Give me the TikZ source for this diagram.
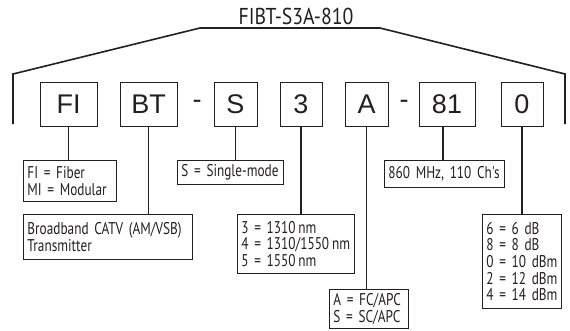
\documentclass[tikz,border=0pt]{standalone}
\usepackage{fontspec}
\setmainfont{Liberation Sans}
\newfontfamily\condfont[FakeStretch=0.78,WordSpace=0.7]{PT Sans}
\newfontfamily\titlefont[FakeStretch=0.86]{PT Sans}
\definecolor{ink}{HTML}{231F20}
\begin{document}
\begin{tikzpicture}[x=1pt,y=-1pt,
  codebox/.style={draw=ink, line width=0.9pt, text=ink, inner sep=0pt,
    font=\fontsize{27}{27}\selectfont, minimum height=44pt},
  dashmark/.style={text=ink, inner sep=0pt, font=\fontsize{27}{27}\selectfont},
  lab/.style={draw=ink, line width=0.9pt, text=ink, align=left, anchor=north west,
    inner xsep=4pt, inner ysep=0pt, font=\condfont\fontsize{17}{16.6}\selectfont},
  conn/.style={draw=ink, line width=1.3pt},
  bracketline/.style={draw=ink, line width=1.6pt, line join=miter}]
\useasboundingbox (0,0) rectangle (570,330);
% title and bracket
\node[text=ink, inner sep=0pt, font=\titlefont\fontsize{23}{23}\selectfont] (title) at (296,16) {FIBT-S3A-810};
\coordinate (bl) at (13,124);
\coordinate (bl2) at (13,74);
\coordinate (tl) at (200,28);
\coordinate (tr) at (380,28);
\coordinate (br2) at (565,74);
\coordinate (br) at (565,124);
\draw[bracketline] (bl) -- (bl2) -- (tl) -- (tr) -- (br2) -- (br);
% code boxes
\node[codebox, minimum width=57pt] (fi) at (68.5,104) {FI};
\node[codebox, minimum width=57pt] (bt) at (148.5,104) {BT};
\node[dashmark] (d1) at (197,104) {-};
\node[codebox, minimum width=43pt] (s) at (235.5,104) {S};
\node[codebox, minimum width=42pt] (three) at (301,104) {3};
\node[codebox, minimum width=43pt] (a) at (366.5,104) {A};
\node[dashmark] (d2) at (404,104) {-};
\node[codebox, minimum width=56pt] (eo) at (447,104) {81};
\node[codebox, minimum width=42pt] (z) at (522,104) {0};
% label boxes
\node[lab, text width=85pt, minimum height=41pt] (filab) at (23,160) {FI~=~Fiber\\MI~=~Modular};
\node[lab, text width=98pt, minimum height=24pt] (slab) at (177,160) {S~=~Single-mode};
\node[lab, text width=112pt, minimum height=27pt] (mlab) at (384,160) {860~MHz,~110~Ch's};
\node[lab, text width=161pt, minimum height=45pt] (btlab) at (23,214) {Broadband~CATV~(AM/VSB)\\Transmitter};
\node[lab, text width=109pt, minimum height=59pt] (nmlab) at (237,214) {3~=~1310\,nm\\4~=~1310/1550\,nm\\5~=~1550\,nm};
\node[lab, text width=71pt, minimum height=94pt] (dblab) at (482,214) {6~=~6~dB\\8~=~8~dB\\0~=~10~dBm\\2~=~12~dBm\\4~=~14~dBm};
\node[lab, text width=71pt, minimum height=39pt] (alab) at (329,289) {A~=~FC/APC\\S~=~SC/APC};
% connectors
\draw[conn] (fi.south) -- (fi.south |- filab.north);
\draw[conn] (bt.south) -- (bt.south |- btlab.north);
\draw[conn] (s.south) -- (s.south |- slab.north);
\draw[conn] (three.south) -- (three.south |- nmlab.north);
\draw[conn] (a.south) -- (a.south |- alab.north);
\draw[conn] ([xshift=-4pt]eo.south) -- ([xshift=-4pt]eo.south |- mlab.north);
\draw[conn] (z.south) -- (z.south |- dblab.north);
\end{tikzpicture}
\end{document}
